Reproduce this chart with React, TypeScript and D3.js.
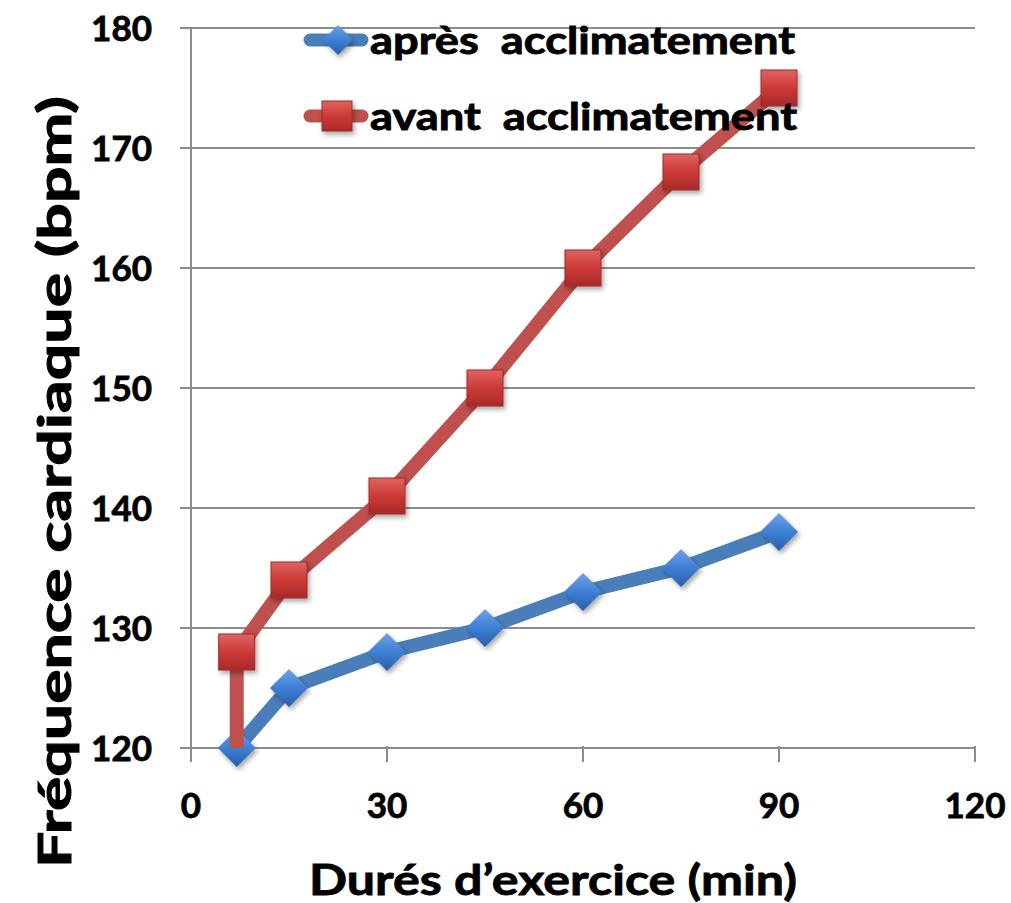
import React, { useEffect, useRef } from 'react';
import * as d3 from 'd3';

const W = 1011;
const H = 903;

// Data
const apresX = [7, 15, 30, 45, 60, 75, 90];
const apresY = [120, 125, 128, 130, 133, 135, 138];
const avantX = [7, 7, 15, 30, 45, 60, 75, 90];
const avantY = [120, 128, 134, 141, 150, 160, 168, 175];
const avantMarker = [false, true, true, true, true, true, true, true];
const xTicks = [0, 30, 60, 90, 120];
const yTicks = [120, 130, 140, 150, 160, 170, 180];
const legendLabels = ['après  acclimatement', 'avant  acclimatement'];

const BLUE = '#4a7ebb';
const RED = '#c0504d';
const FONT = 'Lato, "Open Sans", sans-serif';

export default function App() {
  const svgRef = useRef<SVGSVGElement>(null);

  useEffect(() => {
    if (!svgRef.current) return;
    const svg = d3.select(svgRef.current);
    svg.selectAll('*').remove();

    const x = d3.scaleLinear().domain([0, 120]).range([191, 975]);
    const y = d3.scaleLinear().domain([120, 180]).range([748, 28]);

    const defs = svg.append('defs');
    const shadow = defs.append('filter').attr('id', 'shadow')
      .attr('x', '-50%').attr('y', '-50%').attr('width', '200%').attr('height', '200%');
    shadow.append('feDropShadow').attr('dx', 2).attr('dy', 3).attr('stdDeviation', 2.5)
      .attr('flood-color', '#000').attr('flood-opacity', 0.35);

    const gradBlue = defs.append('linearGradient').attr('id', 'gBlue')
      .attr('x1', 0).attr('y1', 0).attr('x2', 0).attr('y2', 1);
    gradBlue.append('stop').attr('offset', '0%').attr('stop-color', '#6fa3e6');
    gradBlue.append('stop').attr('offset', '50%').attr('stop-color', '#3d7fd4');
    gradBlue.append('stop').attr('offset', '100%').attr('stop-color', '#2a5fa8');

    const gradRed = defs.append('linearGradient').attr('id', 'gRed')
      .attr('x1', 0).attr('y1', 0).attr('x2', 0).attr('y2', 1);
    gradRed.append('stop').attr('offset', '0%').attr('stop-color', '#e06462');
    gradRed.append('stop').attr('offset', '50%').attr('stop-color', '#cc3a36');
    gradRed.append('stop').attr('offset', '100%').attr('stop-color', '#a8292a');

    // Gridlines
    svg.append('g').selectAll('line').data(yTicks).enter().append('line')
      .attr('x1', 180).attr('x2', 975)
      .attr('y1', d => y(d)).attr('y2', d => y(d))
      .attr('stroke', '#8c8c8c').attr('stroke-width', 2);

    // Y axis
    svg.append('line').attr('x1', x(0)).attr('x2', x(0)).attr('y1', y(180)).attr('y2', y(120))
      .attr('stroke', '#8c8c8c').attr('stroke-width', 2);
    // X axis ticks
    svg.append('g').selectAll('line').data(xTicks).enter().append('line')
      .attr('x1', d => x(d)).attr('x2', d => x(d))
      .attr('y1', y(120) - 2).attr('y2', y(120) + 14)
      .attr('stroke', '#8c8c8c').attr('stroke-width', 2);

    // Tick labels
    svg.append('g').selectAll('text').data(yTicks).enter().append('text')
      .attr('x', 152).attr('y', d => y(d)).attr('dy', '0.36em')
      .attr('text-anchor', 'end').attr('font-family', FONT).attr('font-weight', 700)
      .attr('font-size', 35).attr('fill', '#000').attr('stroke', '#000').attr('stroke-width', 0.8)
      .text(d => d);
    svg.append('g').selectAll('text').data(xTicks).enter().append('text')
      .attr('x', d => x(d)).attr('y', 818)
      .attr('text-anchor', 'middle').attr('font-family', FONT).attr('font-weight', 700)
      .attr('font-size', 35).attr('fill', '#000').attr('stroke', '#000').attr('stroke-width', 0.8)
      .text(d => d);

    // Axis titles
    svg.append('text').attr('x', 553).attr('y', 895).attr('text-anchor', 'middle')
      .attr('font-family', FONT).attr('font-weight', 700).attr('font-size', 42)
      .attr('stroke', '#000').attr('stroke-width', 0.8)
      .attr('textLength', 488).attr('lengthAdjust', 'spacingAndGlyphs')
      .text('Durés d’exercice (min)');
    svg.append('text').attr('transform', `translate(71,482) rotate(-90)`)
      .attr('text-anchor', 'middle')
      .attr('font-family', FONT).attr('font-weight', 700).attr('font-size', 46)
      .attr('stroke', '#000').attr('stroke-width', 1)
      .attr('textLength', 772).attr('lengthAdjust', 'spacingAndGlyphs')
      .text('Fréquence cardiaque (bpm)');

    const line = d3.line<[number, number]>().x(d => x(d[0])).y(d => y(d[1]));
    const apres: [number, number][] = apresX.map((v, i) => [v, apresY[i]]);
    const avant: [number, number][] = avantX.map((v, i) => [v, avantY[i]]);

    const diamond = (cx: number, cy: number, r: number) =>
      `M${cx},${cy - r}L${cx + r},${cy}L${cx},${cy + r}L${cx - r},${cy}Z`;

    // Blue series
    svg.append('path').attr('d', line(apres)).attr('fill', 'none')
      .attr('stroke', BLUE).attr('stroke-width', 14).attr('stroke-linejoin', 'round');
    svg.append('g').selectAll('path').data(apres).enter().append('path')
      .attr('d', d => diamond(x(d[0]), y(d[1]), 19))
      .attr('fill', 'url(#gBlue)').attr('filter', 'url(#shadow)');

    // Red series
    svg.append('path').attr('d', line(avant)).attr('fill', 'none')
      .attr('stroke', RED).attr('stroke-width', 14).attr('stroke-linejoin', 'round');
    svg.append('g').selectAll('rect').data(avant.filter((_, i) => avantMarker[i])).enter().append('rect')
      .attr('x', d => x(d[0]) - 18).attr('y', d => y(d[1]) - 18)
      .attr('width', 36).attr('height', 36)
      .attr('fill', 'url(#gRed)').attr('stroke', '#9e2a28').attr('stroke-width', 1)
      .attr('filter', 'url(#shadow)');

    // Legend
    const legendY = [40, 116];
    legendLabels.forEach((lab, i) => {
      const g = svg.append('g');
      g.append('line').attr('x1', 310).attr('x2', 362).attr('y1', legendY[i]).attr('y2', legendY[i])
        .attr('stroke', i === 0 ? BLUE : RED).attr('stroke-width', 13).attr('stroke-linecap', 'round');
      if (i === 0) {
        g.append('path').attr('d', diamond(338, legendY[i], 15)).attr('fill', 'url(#gBlue)')
          .attr('filter', 'url(#shadow)');
      } else {
        g.append('rect').attr('x', 322).attr('y', legendY[i] - 15).attr('width', 30).attr('height', 30)
          .attr('fill', 'url(#gRed)').attr('stroke', '#9e2a28').attr('filter', 'url(#shadow)');
      }
      g.append('text').attr('x', 370).attr('y', legendY[i] + 14)
        .attr('font-family', FONT).attr('font-weight', 700).attr('font-size', 38)
        .attr('stroke', '#000').attr('stroke-width', 0.9)
        .attr('textLength', i === 0 ? 425 : 427).attr('lengthAdjust', 'spacingAndGlyphs')
        .attr('fill', '#000').attr('xml:space', 'preserve').style('white-space', 'pre')
        .text(lab);
    });
  }, []);

  return (
    <div style={{ position: 'absolute', left: 0, top: 0, background: '#fff' }}>
      <svg ref={svgRef} width={W} height={H} style={{ display: 'block' }} />
    </div>
  );
}
